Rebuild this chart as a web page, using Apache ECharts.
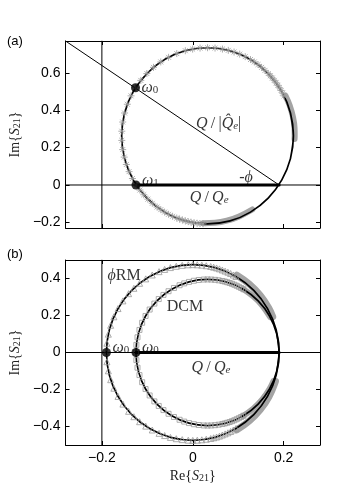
<!DOCTYPE html>
<html>
<head>
<meta charset="utf-8">
<script src="https://cdn.jsdelivr.net/npm/echarts@6/dist/echarts.min.js"></script>
<style>
  html, body { margin: 0; padding: 0; background: #fff; }
  #chart { width: 346px; height: 484px; }
</style>
</head>
<body>
<div id="chart"></div>
<script>
// ---- axes ----
const xRange = [-0.28, 0.28];
const yRangeA = [-0.23, 0.77];
const yRangeB = [-0.5, 0.5];
const xTicks = [-0.2, 0, 0.2];
const yTicksA = [-0.2, 0, 0.2, 0.4, 0.6];
const yTicksB = [-0.4, -0.2, 0, 0.2, 0.4];
const refX = -0.2;   // vertical reference line
const refY = 0;      // horizontal reference line

// ---- panel (a) ----
// fitted circle, 15 deg steps starting at the rightmost point
const fitAX = [0.2215, 0.215, 0.196, 0.166, 0.127, 0.082, 0.0325, -0.017, -0.062, -0.101, -0.131, -0.150,
  -0.1565, -0.150, -0.131, -0.101, -0.062, -0.017, 0.0325, 0.082, 0.127, 0.166, 0.196, 0.215];
const fitAY = [0.263, 0.385, 0.499, 0.596, 0.671, 0.718, 0.734, 0.718, 0.671, 0.596, 0.499, 0.385,
  0.263, 0.141, 0.0275, -0.070, -0.145, -0.192, -0.208, -0.192, -0.145, -0.070, 0.0275, 0.141];
// measured points (asterisks)
const measAX = [0.2009, 0.1978, 0.1945, 0.191, 0.1873, 0.1834, 0.1794, 0.1751, 0.1707, 0.1661, 0.159, 0.1514,
  0.1436, 0.1354, 0.127, 0.1154, 0.1033, 0.0909, 0.0782, 0.0653, 0.049, 0.0325, 0.016, -0.0003, -0.0164,
  -0.0352, -0.0533, -0.0704, -0.0864, -0.1011, -0.1144, -0.126, -0.1359, -0.144, -0.1501, -0.1542, -0.1562,
  -0.1562, -0.1542, -0.1509, -0.1462, -0.1402, -0.1328, -0.1242, -0.1164, -0.1079, -0.0988, -0.089, -0.0786,
  -0.0704, -0.062, -0.0533, -0.0444, -0.0352, -0.029, -0.0228, -0.0164, -0.01, -0.0036, 0.0029, 0.0095, 0.016, 0.0226];
const measAY = [0.4768, 0.4913, 0.5056, 0.5195, 0.5332, 0.5464, 0.5594, 0.572, 0.5842, 0.596, 0.613, 0.629,
  0.644, 0.658, 0.6709, 0.6863, 0.6997, 0.711, 0.72, 0.7268, 0.7322, 0.734, 0.7322, 0.7268, 0.7179,
  0.7027, 0.6827, 0.658, 0.629, 0.596, 0.5594, 0.5195, 0.4768, 0.4318, 0.3849, 0.3367, 0.2876,
  0.2384, 0.1893, 0.1491, 0.1096, 0.0714, 0.0347, -0.0004, -0.027, -0.0521, -0.0758, -0.0978, -0.118,
  -0.132, -0.1449, -0.1567, -0.1673, -0.1767, -0.1823, -0.1874, -0.1919, -0.1959, -0.1993, -0.2022, -0.2045, -0.2062, -0.2073];
// dense clusters of measured points near the off-resonance point
const bandA1X = [0.2039, 0.2133, 0.2207, 0.2240, 0.2243, 0.2240];
const bandA1Y = [0.4780, 0.4250, 0.3612, 0.3041, 0.263, 0.2460];
const bandA2X = [0.0226, 0.049, 0.075, 0.1020, 0.1310];
const bandA2Y = [-0.2040, -0.2020, -0.1910, -0.1680, -0.1310];
const diagA = [[-0.28, 0.77], [0.19, 0]];
const chordA = [[-0.125, 0], [0.19, 0]];
const dotsA = [[-0.126, 0.52], [-0.125, 0]];

// ---- panel (b) ----
const fitOutX = [0.19, 0.1835, 0.1645, 0.1343, 0.095, 0.049, 0, -0.049, -0.095, -0.1343, -0.1645, -0.1835,
  -0.19, -0.1835, -0.1645, -0.1343, -0.095, -0.049, 0, 0.049, 0.095, 0.1343, 0.1645, 0.1835];
const fitOutY = [0, 0.123, 0.2375, 0.336, 0.411, 0.459, 0.475, 0.459, 0.411, 0.336, 0.2375, 0.123,
  0, -0.123, -0.2375, -0.336, -0.411, -0.459, -0.475, -0.459, -0.411, -0.336, -0.2375, -0.123];
const fitInX = [0.19, 0.1846, 0.1689, 0.1439, 0.1113, 0.0733, 0.0325, -0.0083, -0.0463, -0.0789, -0.1039, -0.1196,
  -0.125, -0.1196, -0.1039, -0.0789, -0.0463, -0.0083, 0.0325, 0.0733, 0.1113, 0.1439, 0.1689, 0.1846];
const fitInY = [0, 0.102, 0.1975, 0.279, 0.342, 0.382, 0.395, 0.382, 0.342, 0.279, 0.1975, 0.102,
  0, -0.102, -0.1975, -0.279, -0.342, -0.382, -0.395, -0.382, -0.342, -0.279, -0.1975, -0.102];
// phiRM points (triangles), upper branch then lower branch
const triX = [0.095, 0.0892, 0.0833, 0.0773, 0.0712, 0.065, 0.0587, 0.0524, 0.046, 0.0395, 0.0297, 0.0199, 0.0099,
  0, -0.0099, -0.0232, -0.0363, -0.0492, -0.0619, -0.0742, -0.0892, -0.1035, -0.117, -0.1296, -0.1412, -0.1537,
  -0.1645, -0.1736, -0.1807, -0.1858, -0.189, -0.19,
  -0.189, -0.1858, -0.1807, -0.1736, -0.1645, -0.1537, -0.1412, -0.1296, -0.117, -0.1035, -0.0892, -0.0742,
  -0.0619, -0.0492, -0.0363, -0.0232, -0.0099, 0, 0.0099, 0.0199, 0.0297, 0.0395, 0.046, 0.0524, 0.0587,
  0.065, 0.0712, 0.0773, 0.0833, 0.0892, 0.095];
const triY = [0.411, 0.419, 0.427, 0.434, 0.440, 0.446, 0.452, 0.457, 0.461, 0.465, 0.469, 0.472, 0.474,
  0.475, 0.474, 0.471, 0.466, 0.459, 0.449, 0.437, 0.419, 0.398, 0.374, 0.347, 0.318, 0.279,
  0.2375, 0.193, 0.147, 0.099, 0.050, 0,
  -0.050, -0.099, -0.147, -0.193, -0.2375, -0.279, -0.318, -0.347, -0.374, -0.398, -0.419, -0.437,
  -0.449, -0.459, -0.466, -0.471, -0.474, -0.475, -0.474, -0.472, -0.469, -0.465, -0.461, -0.457, -0.452,
  -0.446, -0.440, -0.434, -0.427, -0.419, -0.411];
// DCM points (squares)
const sqX = [0.1113, 0.1064, 0.1015, 0.0966, 0.0915, 0.0864, 0.0812, 0.0759, 0.0706, 0.0652, 0.0571, 0.049, 0.0407,
  0.0325, 0.0243, 0.0133, 0.0024, -0.0083, -0.0188, -0.029, -0.0414, -0.0533, -0.0645, -0.0749, -0.0845, -0.0949,
  -0.1039, -0.1114, -0.1173, -0.1216, -0.1241, -0.125,
  -0.1241, -0.1216, -0.1173, -0.1114, -0.1039, -0.0949, -0.0845, -0.0749, -0.0645, -0.0533, -0.0414, -0.029,
  -0.0188, -0.0083, 0.0024, 0.0133, 0.0243, 0.0325, 0.0407, 0.049, 0.0571, 0.0652, 0.0706, 0.0759, 0.0812,
  0.0864, 0.0915, 0.0966, 0.1015, 0.1064, 0.1113];
const sqY = [0.342, 0.3487, 0.355, 0.3608, 0.3662, 0.3712, 0.3757, 0.3797, 0.3833, 0.3863, 0.3901, 0.3928, 0.3944,
  0.395, 0.3944, 0.392, 0.3877, 0.3815, 0.3735, 0.3636, 0.3487, 0.3313, 0.3113, 0.2889, 0.2643, 0.2322,
  0.1975, 0.1606, 0.122, 0.0821, 0.0413, 0,
  -0.0413, -0.0821, -0.122, -0.1606, -0.1975, -0.2322, -0.2643, -0.2889, -0.3113, -0.3313, -0.3487, -0.3636,
  -0.3735, -0.3815, -0.3877, -0.392, -0.3944, -0.395, -0.3944, -0.3928, -0.3901, -0.3863, -0.3833, -0.3797, -0.3757,
  -0.3712, -0.3662, -0.3608, -0.355, -0.3487, -0.342];
const bandOutUpX = [0.097, 0.1245, 0.1482, 0.1672, 0.1760];
const bandOutUpY = [0.418, 0.370, 0.310, 0.2410, 0.193];
const bandOutDnX = [0.097, 0.1245, 0.1482, 0.1672, 0.1820];
const bandOutDnY = [-0.418, -0.370, -0.310, -0.2410, -0.1560];
const bandInUpX = [0.1113, 0.1337, 0.1531, 0.1703];
const bandInUpY = [0.342, 0.3026, 0.2539, 0.1915];
const bandInDnX = [0.1113, 0.1337, 0.1531, 0.1689, 0.1775];
const bandInDnY = [-0.342, -0.3026, -0.2539, -0.1975, -0.1543];
const chordB = [[-0.125, 0], [0.19, 0]];
const dotsB = [[-0.19, 0], [-0.125, 0]];

// ---- helpers ----
const SANS = '"Liberation Sans", Arial, sans-serif';
const SERIF = '"Liberation Serif", "DejaVu Serif", serif';
const GRAY = '#9a9a9a';
const BAND = '#a4a4a4';

const zip = (xs, ys) => xs.map((x, i) => [x, ys[i]]);
// closed loop with overlap so the smoothing has no corner at the seam
const loop = (xs, ys) => {
  const p = zip(xs, ys);
  return [p[p.length - 1], ...p, p[0], p[1]];
};
const fmt = v => (v === 0 ? '0' : (v < 0 ? '\u2212' : '') + Math.abs(v).toFixed(1));

const rich = {
  n: { fontFamily: SERIF, fontSize: 16, color: '#000' },
  i: { fontFamily: SERIF, fontSize: 16, fontStyle: 'italic', color: '#000' },
  s: { fontFamily: SERIF, fontSize: 11, color: '#000', verticalAlign: 'bottom' },
  si: { fontFamily: SERIF, fontSize: 11, fontStyle: 'italic', color: '#000', verticalAlign: 'bottom' }
};
const nameRich = {
  n: { fontFamily: SERIF, fontSize: 14, color: '#222' },
  i: { fontFamily: SERIF, fontSize: 14, fontStyle: 'italic', color: '#222' },
  s: { fontFamily: SERIF, fontSize: 10, color: '#222', verticalAlign: 'bottom' }
};

function xAx(grid, pos, labels, name) {
  return {
    type: 'value', gridIndex: grid, position: pos, min: xRange[0], max: xRange[1],
    axisLine: { show: true, onZero: false, lineStyle: { color: '#000', width: 1 } },
    axisTick: { show: true, inside: true, length: 4, customValues: xTicks, lineStyle: { color: '#000' } },
    axisLabel: { show: labels, customValues: xTicks, formatter: fmt, fontFamily: SANS, fontSize: 14, color: '#000', margin: 6 },
    splitLine: { show: false },
    name: name || '', nameLocation: 'middle', nameGap: 24,
    nameTextStyle: { fontFamily: SERIF, fontSize: 14, color: '#222', rich: nameRich }
  };
}
function yAx(grid, pos, range, ticks, labels, name) {
  return {
    type: 'value', gridIndex: grid, position: pos, min: range[0], max: range[1],
    axisLine: { show: true, onZero: false, lineStyle: { color: '#000', width: 1 } },
    axisTick: { show: true, inside: true, length: 4, customValues: ticks, lineStyle: { color: '#000' } },
    axisLabel: { show: labels, customValues: ticks, formatter: fmt, fontFamily: SANS, fontSize: 14, color: '#000', margin: 5 },
    splitLine: { show: false },
    name: name || '', nameLocation: 'middle', nameGap: 38, nameRotate: 90,
    nameTextStyle: { fontFamily: SERIF, fontSize: 14, color: '#222', rich: nameRich }
  };
}

function line(ax, data, color, width, smooth) {
  return {
    type: 'line', xAxisIndex: ax, yAxisIndex: ax, data, symbol: 'none', smooth: smooth || false,
    lineStyle: { color, width, cap: 'round' }, silent: true, z: 2
  };
}
function marks(ax, data, symbol, size) {
  return {
    type: 'scatter', xAxisIndex: ax, yAxisIndex: ax, data, symbol, symbolSize: size, silent: true, z: 2,
    itemStyle: { color: 'rgba(0,0,0,0)', borderColor: GRAY, borderWidth: 1 }
  };
}
function dots(ax, data) {
  return {
    type: 'scatter', xAxisIndex: ax, yAxisIndex: ax, data, symbol: 'circle', symbolSize: 9, silent: true, z: 4,
    itemStyle: { color: '#000' }
  };
}
function note(x, y, text, position, offset) {
  return {
    value: [x, y],
    label: { show: true, formatter: text, position: position || 'inside', distance: 6, offset: offset || [0, 0], rich }
  };
}
function notes(ax, data) {
  return {
    type: 'scatter', xAxisIndex: ax, yAxisIndex: ax, data, symbolSize: 0, silent: true, z: 5,
    label: { show: true, rich }
  };
}

const ASTERISK = 'path://M0,-5L0,5M-5,0L5,0M-3.5,-3.5L3.5,3.5M-3.5,3.5L3.5,-3.5';

const option = {
  animation: false,
  backgroundColor: '#fff',
  grid: [
    { left: 58, top: 41, width: 262, height: 187 },
    { left: 58, top: 260, width: 262, height: 187 }
  ],
  xAxis: [xAx(0, 'bottom', false), xAx(0, 'top', false),
          xAx(1, 'bottom', true, '{n|Re}{{i|S}{s|21}}'), xAx(1, 'top', false)],
  yAxis: [yAx(0, 'left', yRangeA, yTicksA, true, '{n|Im}{{i|S}{s|21}}'), yAx(0, 'right', yRangeA, yTicksA, false),
          yAx(1, 'left', yRangeB, yTicksB, true, '{n|Im}{{i|S}{s|21}}'), yAx(1, 'right', yRangeB, yTicksB, false)],
  graphic: [
    { type: 'text', left: 7, top: 35, style: { text: '(a)', font: '13px ' + SANS, fill: '#000' } },
    { type: 'text', left: 7, top: 248, style: { text: '(b)', font: '13px ' + SANS, fill: '#000' } }
  ],
  series: [
    // panel (a)
    line(0, [[refX, yRangeA[0]], [refX, yRangeA[1]]], '#000', 1),
    line(0, [[xRange[0], refY], [xRange[1], refY]], '#000', 1),
    line(0, diagA, '#000', 1),
    line(0, zip(bandA1X, bandA1Y), BAND, 6, 0.4),
    line(0, zip(bandA2X, bandA2Y), BAND, 6, 0.4),
    marks(0, zip(measAX, measAY), ASTERISK, 7),
    line(0, loop(fitAX, fitAY), '#000', 1.7, 0.34),
    line(0, chordA, '#000', 3),
    dots(0, dotsA),
    notes(0, [
      note(dotsA[0][0], dotsA[0][1], '{i|\u03c9}{s|0}', 'right', [0, 0]),
      note(dotsA[1][0], dotsA[1][1], '{i|\u03c9}{s|1}', 'right', [0, -4]),
      note(0.057, 0.327, '{i|Q}{n|\u2009/\u2009|}{i|Q\u0302}{si|e}{n||}'),
      note(0.117, 0.039, '{n|-}{i|\u03d5}'),
      note(0.036, -0.068, '{i|Q}{n|\u2009/\u2009}{i|Q}{si|e}')
    ]),
    // panel (b)
    line(2, [[refX, yRangeB[0]], [refX, yRangeB[1]]], '#000', 1),
    line(2, [[xRange[0], refY], [xRange[1], refY]], '#000', 1),
    line(2, zip(bandOutUpX, bandOutUpY), BAND, 7, 0.4),
    line(2, zip(bandOutDnX, bandOutDnY), BAND, 7, 0.4),
    line(2, zip(bandInUpX, bandInUpY), BAND, 6, 0.4),
    line(2, zip(bandInDnX, bandInDnY), BAND, 6, 0.4),
    marks(2, zip(triX, triY), 'triangle', 6),
    marks(2, zip(sqX, sqY), 'rect', 5),
    line(2, loop(fitOutX, fitOutY), '#000', 1.7, 0.34),
    line(2, loop(fitInX, fitInY), '#000', 1.7, 0.34),
    line(2, chordB, '#000', 3),
    dots(2, dotsB),
    notes(2, [
      note(dotsB[0][0], dotsB[0][1], '{i|\u03c9}{s|0}', 'right', [0, -5]),
      note(dotsB[1][0], dotsB[1][1], '{i|\u03c9}{s|0}', 'right', [0, -5]),
      note(-0.151, 0.414, '{i|\u03d5}{n|RM}'),
      note(-0.017, 0.246, '{n|DCM}'),
      note(0.040, -0.08, '{i|Q}{n|\u2009/\u2009}{i|Q}{si|e}')
    ])
  ]
};

const chart = echarts.init(document.getElementById('chart'), null, { renderer: 'canvas' });
chart.setOption(option);
window.addEventListener('resize', () => chart.resize());
</script>
</body>
</html>
